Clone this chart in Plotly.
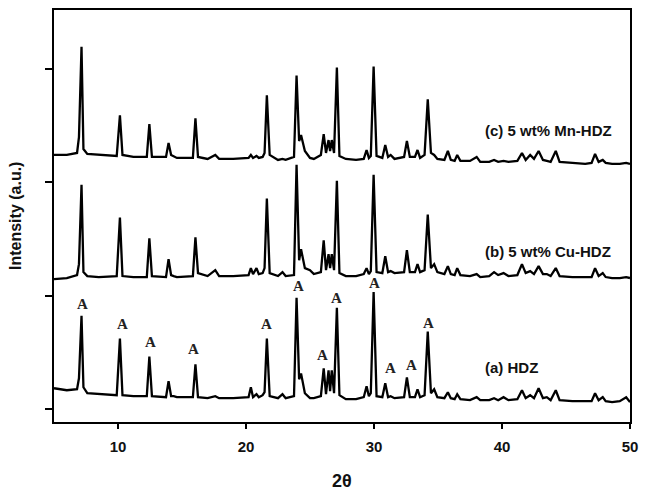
import plotly.graph_objects as go

# 2-theta grid (degrees)
two_theta = [
    5.0, 6.0, 6.8, 6.95, 7.15, 7.3, 7.6, 8.5, 9.9, 10.15,
    10.35, 11.2, 12.25, 12.45, 12.65, 13.75, 13.95, 14.15, 14.35, 14.6,
    15.85, 16.05, 16.25, 17.0, 17.6, 17.9, 19.0, 20.2, 20.38, 20.55,
    20.82, 21.0, 21.3, 21.45, 21.63, 21.85, 22.5, 22.85, 23.1, 23.75,
    23.95, 24.15, 24.3, 24.6, 25.0, 25.3, 25.85, 26.07, 26.25, 26.45,
    26.57, 26.7, 26.88, 27.1, 27.3, 27.8, 28.6, 29.2, 29.42, 29.6,
    29.75, 29.97, 30.2, 30.65, 30.88, 31.1, 31.3, 31.6, 32.35, 32.57,
    32.8, 33.2, 33.4, 33.6, 33.95, 34.2, 34.45, 34.7, 34.95, 35.5,
    35.77, 36.0, 36.3, 36.5, 36.75, 37.5, 38.02, 38.3, 39.0, 39.38,
    39.7, 40.12, 40.5, 41.2, 41.56, 41.85, 42.2, 42.5, 42.86, 43.2,
    43.5, 43.8, 44.2, 44.5, 45.5, 46.5, 47.0, 47.27, 47.55, 47.87,
    48.1, 48.6, 49.2, 49.7, 50.0,
]

# (a) HDZ intensity (a.u.)
int_hdz = [
    21, 19, 20, 31, 94, 22, 16, 15, 14, 71,
    14, 13, 13, 53, 13, 12, 28, 13, 13, 12,
    12, 45, 12, 11, 13, 11, 11, 12, 22, 12,
    15, 12, 14, 17, 71, 13, 11, 15, 11, 13,
    112, 30, 36, 16, 11, 11, 13, 41, 15, 39,
    18, 39, 16, 102, 14, 10, 10, 12, 23, 13,
    16, 118, 13, 12, 26, 12, 13, 11, 12, 32,
    12, 12, 20, 12, 14, 78, 16, 20, 12, 11,
    17, 11, 10, 15, 10, 9, 12, 9, 9, 11,
    9, 12, 9, 10, 19, 11, 14, 11, 21, 11,
    12, 9, 19, 9, 8, 8, 8, 16, 9, 12,
    8, 7, 8, 12, 7,
]

# (b) 5 wt% Cu-HDZ intensity (a.u.)
int_cu = [
    17, 18, 21, 32, 112, 24, 20, 19, 20, 79,
    20, 19, 19, 58, 20, 19, 37, 21, 20, 19,
    20, 59, 23, 20, 26, 20, 20, 21, 28, 22,
    28, 22, 23, 28, 98, 23, 20, 24, 20, 21,
    132, 36, 47, 28, 26, 22, 24, 56, 26, 42,
    28, 42, 26, 116, 23, 20, 20, 22, 28, 22,
    25, 122, 24, 23, 40, 24, 25, 23, 24, 46,
    24, 24, 32, 24, 26, 82, 28, 32, 24, 22,
    30, 22, 21, 28, 21, 20, 22, 19, 20, 24,
    21, 23, 20, 21, 32, 23, 25, 22, 30, 22,
    22, 20, 28, 20, 19, 19, 19, 28, 20, 23,
    19, 18, 18, 19, 18,
]

# (c) 5 wt% Mn-HDZ intensity (a.u.)
int_mn = [
    27, 27, 29, 45, 136, 33, 28, 27, 26, 67,
    27, 25, 25, 58, 25, 25, 39, 27, 26, 24,
    24, 64, 25, 23, 27, 23, 23, 24, 27, 24,
    26, 24, 25, 29, 87, 27, 22, 23, 22, 25,
    107, 41, 47, 31, 24, 23, 27, 48, 29, 42,
    31, 42, 29, 115, 26, 23, 22, 23, 32, 24,
    26, 116, 26, 24, 37, 25, 27, 23, 25, 41,
    25, 25, 32, 24, 27, 83, 29, 27, 23, 22,
    31, 22, 21, 27, 21, 21, 25, 20, 20, 22,
    20, 21, 20, 21, 29, 22, 27, 23, 31, 22,
    21, 20, 31, 20, 19, 18, 19, 28, 20, 22,
    19, 18, 18, 19, 18,
]

series_names = ["(a) HDZ", "(b) 5 wt% Cu-HDZ", "(c) 5 wt% Mn-HDZ"]
series_offsets = [0, 114, 229]
series_label_y = [42, 159, 281]

# Zeolite A reflections marked on pattern (a)
a_peak_x = [7.2, 10.39, 12.55, 15.92, 21.57, 24.1, 25.98, 27.07, 30.0, 31.25, 32.9, 34.25]
a_peak_y = [106, 86, 68, 61, 86, 124, 54, 112, 127, 41, 44, 87]

x_ticks = [10, 20, 30, 40, 50]
y_ticks = [0, 114, 229, 343]

SANS = "Liberation Sans, Arial"

fig = go.Figure()
for ys, off, name in zip([int_hdz, int_cu, int_mn], series_offsets, series_names):
    fig.add_trace(go.Scatter(
        x=two_theta, y=[v + off for v in ys], mode="lines", name=name,
        line=dict(color="black", width=2.3), showlegend=False,
    ))

annotations = []
for name, ly in zip(series_names, series_label_y):
    annotations.append(dict(x=38.55, y=ly, xref="x", yref="y", text="<b>" + name + "</b>",
                            showarrow=False, xanchor="left", yanchor="middle",
                            font=dict(family=SANS, size=15, color="#111")))
for px, py in zip(a_peak_x, a_peak_y):
    annotations.append(dict(x=px, y=py, xref="x", yref="y", text="<b>A</b>",
                            showarrow=False, xanchor="center", yanchor="middle",
                            font=dict(family="Liberation Serif, Times New Roman", size=15, color="#222")))
annotations.append(dict(x=0.5, y=0, xref="paper", yref="paper", text="<b>2θ</b>",
                        showarrow=False, yshift=-59, yanchor="middle",
                        font=dict(family=SANS, size=18, color="#111")))
annotations.append(dict(x=0, y=0.5, xref="paper", yref="paper", text="<b>Intensity (a.u.)</b>",
                        showarrow=False, xshift=-39, textangle=-90, xanchor="center", yanchor="middle",
                        font=dict(family=SANS, size=16, color="#111")))

fig.update_layout(
    width=662, height=494,
    margin=dict(l=54, r=32, t=8, b=72),
    plot_bgcolor="white", paper_bgcolor="white",
    annotations=annotations,
    xaxis=dict(range=[5, 50], tickvals=x_ticks, ticks="outside", ticklen=5, tickwidth=1.5,
               tickcolor="black", showline=True, linecolor="black", linewidth=2, mirror=True,
               showgrid=False, zeroline=False, ticklabelstandoff=5,
               tickfont=dict(family=SANS, size=15, color="#111", weight="bold")),
    yaxis=dict(range=[-13, 402], tickvals=y_ticks, ticks="outside", ticklen=7, tickwidth=1.5,
               tickcolor="black", showline=True, linecolor="black", linewidth=2, mirror=True,
               showgrid=False, zeroline=False, showticklabels=False),
)

fig.write_html("out.html")
